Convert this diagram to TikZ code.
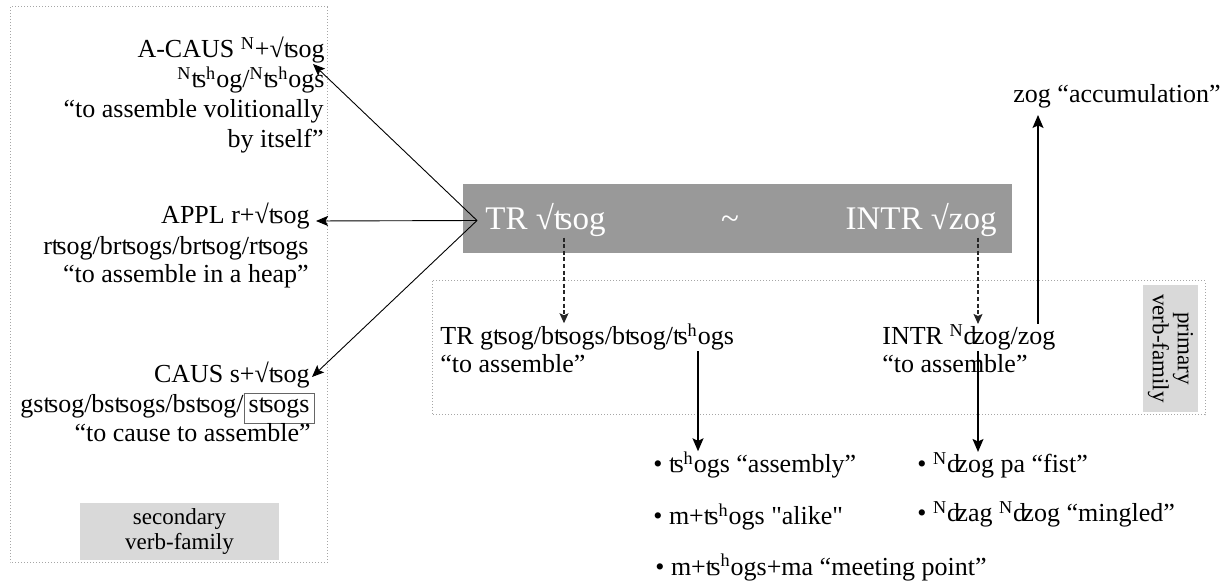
\documentclass[tikz,border=0pt]{standalone}
\usepackage{fontspec}
\setmainfont{Liberation Serif}[Ligatures=TeXOff]
\usetikzlibrary{arrows.meta,calc}
\newcommand\myH{\textsuperscript{h}}
\newcommand\myN{\textsuperscript{N}}
\tikzset{
  txt/.style={inner sep=0pt, font=\fontsize{13}{15}\selectfont},
  big/.style={inner sep=0pt, font=\fontsize{16.5}{19}\selectfont, text=white},
  lab/.style={inner sep=0pt, font=\fontsize{11.5}{12.5}\selectfont, align=center, fill=black!15},
  thinarrow/.style={-{Stealth[length=6pt,width=5pt,inset=1.2pt]}, line width=0.45pt},
  arr/.style={-{Stealth[length=6.5pt,width=5.5pt,inset=1.3pt]}, line width=0.7pt},
  dasharr/.style={-{Stealth[length=5pt,width=4.5pt,inset=1pt]}, draw=black!85, line width=0.6pt, dash pattern=on 2pt off 1.3pt},
  family/.style={draw=black!35, line width=0.5pt, dash pattern=on 0.5pt off 1pt},
}
\begin{document}
\begin{tikzpicture}[x=0.5pt,y=-0.5pt]
\useasboundingbox (0,0) rectangle (1230,581);
% frames
\draw[family] (10,7) rectangle (327,563);
\draw[family] (432,281) rectangle (1205,415);
\node[lab, minimum width=99.5pt, minimum height=28.5pt] (seclab) at (179.5,531.5) {secondary\\verb-family};
\node[lab, rotate=-90, minimum width=63.5pt, minimum height=27.5pt] (primlab) at (1170.5,348.5) {primary\\verb-family};
% main bar
\fill[black!40] (463,184) rectangle (1012,253);
\node[big, anchor=base west] (tr) at (485,230) {TR √ʦog};
\node[big, anchor=base] (tilde) at (730,230) {\textasciitilde};
\node[big, anchor=base east] (intr) at (997,230) {INTR √zog};
% left block
\node[txt, anchor=base east] (acaus1) at (325,58) {A-CAUS \myN+√ʦog};
\node[txt, anchor=base east] (acaus2) at (325,88) {\myN ʦ\myH og/\myN ʦ\myH ogs};
\node[txt, anchor=base east] (acaus3) at (324,118) {“to assemble volitionally};
\node[txt, anchor=base east] (acaus4) at (324,148) {by itself”};
\node[txt, anchor=base east] (appl1) at (310,224) {APPL r+√ʦog};
\node[txt, anchor=base east] (appl2) at (309,255) {rʦog/brʦogs/brʦog/rʦogs};
\node[txt, anchor=base east] (appl3) at (309,283) {“to assemble in a heap”};
\node[txt, anchor=base east] (caus1) at (310,383) {CAUS s+√ʦog};
\node[txt, anchor=base east] (caus2) at (315,413) {gsʦog/bsʦogs/bsʦog/\fboxsep=2pt\fboxrule=0.5pt\fcolorbox{black!60}{white}{sʦogs}};
\node[txt, anchor=base east] (caus3) at (311,442) {“to cause to assemble”};
% primary forms
\node[txt, anchor=base west] (trform) at (440,345) {TR gʦog/bʦogs/bʦog/ʦ\myH ogs};
\node[txt, anchor=base west] (trgloss) at (440,373) {“to assemble”};
\node[txt, anchor=base west] (intrform) at (882,345) {INTR \myN ʣog/zog};
\node[txt, anchor=base west] (intrgloss) at (882,373) {“to assemble”};
\node[txt, anchor=base west] (zog) at (1013,103) {zog “accumulation”};
% derived nouns
\node[txt, anchor=base west] (b1) at (653,473) {• ʦ\myH ogs “assembly”};
\node[txt, anchor=base west] (b2) at (653,525) {• m+ʦ\myH ogs "alike"};
\node[txt, anchor=base west] (b3) at (655,575) {• m+ʦ\myH ogs+ma “meeting point”};
\node[txt, anchor=base west] (b4) at (917,473) {• \myN ʣog pa “fist”};
\node[txt, anchor=base west] (b5) at (917,522) {• \myN ʣag \myN ʣog “mingled”};
% connectors
\coordinate (hub) at ($(tr.west)+(-8,0)$);
\draw[thinarrow] (hub) -- ($(acaus1.base east)+(-12,6)$);
\draw[thinarrow] (hub) -- ($(appl1.base east)+(6,-3)$);
\draw[thinarrow] (hub) -- ($(caus1.base east)+(2,-6)$);
\coordinate (dx1) at (564,0);
\coordinate (dx2) at (978,0);
\coordinate (sx1) at (698,0);
\coordinate (sx2) at (1038,0);
\draw[dasharr] (tr.south -| dx1) -- (trform.north -| dx1);
\draw[dasharr] (intr.south -| dx2) -- (intrform.north -| dx2);
\draw[arr] (trform.south -| sx1) -- (b1.north -| sx1);
\draw[arr] (intrform.south -| dx2) -- (b4.north -| dx2);
\draw[arr, shorten >=3pt] (intrform.north -| sx2) -- (zog.south -| sx2);
\end{tikzpicture}
\end{document}
